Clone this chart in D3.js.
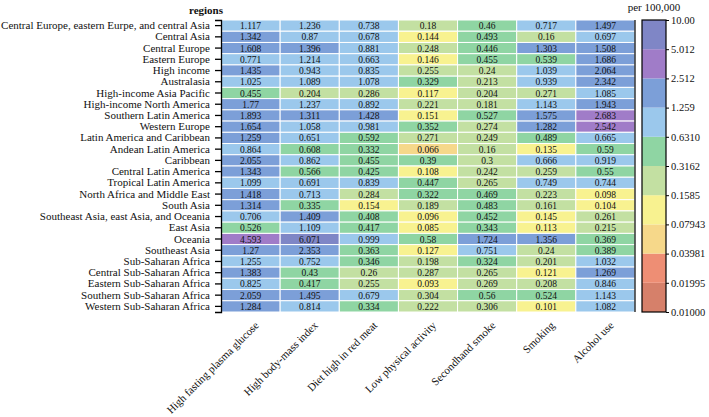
<!DOCTYPE html>
<html>
<head>
<meta charset="utf-8">
<script src="https://cdn.jsdelivr.net/npm/d3@7"></script>
<style>
  html, body { margin: 0; padding: 0; background: #fff; }
  svg { display: block; }
  text { font-family: "Liberation Serif", "Times New Roman", serif; fill: #111; }
</style>
</head>
<body>
<svg id="chart" width="709" height="417"></svg>
<script>
const regions = [
  "Central Europe, eastern Eurpe, and central Asia",
  "Central Asia",
  "Central Europe",
  "Eastern Europe",
  "High income",
  "Australasia",
  "High-income Asia Pacific",
  "High-income North America",
  "Southern Latin America",
  "Western Europe",
  "Latin America and Caribbean",
  "Andean Latin America",
  "Caribbean",
  "Central Latin America",
  "Tropical Latin America",
  "North Africa and Middle East",
  "South Asia",
  "Southeast Asia, east Asia, and Oceania",
  "East Asia",
  "Oceania",
  "Southeast Asia",
  "Sub-Saharan Africa",
  "Central Sub-Saharan Africa",
  "Eastern Sub-Saharan Africa",
  "Southern Sub-Saharan Africa",
  "Western Sub-Saharan Africa"
];
const riskFactors = [
  "High fasting plasma glucose",
  "High body-mass index",
  "Diet high in red meat",
  "Low physical activity",
  "Secondhand smoke",
  "Smoking",
  "Alcohol use"
];
const highFastingPlasmaGlucose = [1.117,1.342,1.608,0.771,1.435,1.025,0.455,1.77,1.893,1.654,1.259,0.864,2.055,1.343,1.099,1.418,1.314,0.706,0.526,4.593,1.27,1.255,1.383,0.825,2.059,1.284];
const highBodyMassIndex = [1.236,0.87,1.396,1.214,0.943,1.089,0.204,1.237,1.311,1.058,0.651,0.608,0.862,0.566,0.691,0.713,0.335,1.409,1.109,6.071,2.353,0.752,0.43,0.417,1.495,0.814];
const dietHighInRedMeat = [0.738,0.678,0.881,0.663,0.835,1.078,0.286,0.892,1.428,0.981,0.592,0.332,0.455,0.425,0.839,0.284,0.154,0.408,0.417,0.999,0.363,0.346,0.26,0.255,0.679,0.334];
const lowPhysicalActivity = [0.18,0.144,0.248,0.146,0.255,0.329,0.117,0.221,0.151,0.352,0.271,0.066,0.39,0.108,0.447,0.322,0.189,0.096,0.085,0.58,0.127,0.198,0.287,0.093,0.304,0.222];
const secondhandSmoke = [0.46,0.493,0.446,0.455,0.24,0.213,0.204,0.181,0.527,0.274,0.249,0.16,0.3,0.242,0.265,0.469,0.483,0.452,0.343,1.724,0.751,0.324,0.265,0.269,0.56,0.306];
const smoking = [0.717,0.16,1.303,0.539,1.039,0.939,0.271,1.143,1.575,1.282,0.489,0.135,0.666,0.259,0.749,0.223,0.161,0.145,0.113,1.356,0.24,0.201,0.121,0.208,0.524,0.101];
const alcoholUse = [1.497,0.697,1.508,1.686,2.064,2.342,1.085,1.943,2.683,2.542,0.665,0.59,0.919,0.55,0.744,0.098,0.104,0.261,0.215,0.369,0.389,1.032,1.269,0.846,1.143,1.082];
const seriesValues = [highFastingPlasmaGlucose, highBodyMassIndex, dietHighInRedMeat, lowPhysicalActivity, secondhandSmoke, smoking, alcoholUse];

const legendTicks = [0.01, 0.01995, 0.03981, 0.07943, 0.1585, 0.3162, 0.6310, 1.259, 2.512, 5.012, 10];
const legendTickLabels = ["0.01000","0.01995","0.03981","0.07943","0.1585","0.3162","0.6310","1.259","2.512","5.012","10.00"];
const bandColors = ["#d6806a","#ee8e74","#f6d88a","#f8f290","#c3e0a2","#8fd5a3","#9bc8ec","#7c9fd8","#a07cc8","#7f86c6"];
const legendTitle = "per 100,000";
const yTitle = "regions";

const svg = d3.select("#chart");
const mLeft = 221, mRight = 635, mTop = 20, mBottom = 312;
const serif = '"Liberation Serif", "Times New Roman", serif';

const x = d3.scaleBand().domain(riskFactors).range([mLeft, mRight]);
const y = d3.scaleBand().domain(regions).range([mTop, mBottom]);
const color = d3.scaleThreshold().domain(legendTicks.slice(1, -1)).range(bandColors);

const cells = [];
seriesValues.forEach((vals, j) => vals.forEach((v, i) => cells.push({r: regions[i], c: riskFactors[j], v})));

svg.append("g").selectAll("rect").data(cells).join("rect")
  .attr("x", d => x(d.c)).attr("y", d => y(d.r))
  .attr("width", x.bandwidth()).attr("height", y.bandwidth())
  .attr("fill", d => color(d.v))
  .attr("stroke", "#fff").attr("stroke-width", 1);

svg.append("g").selectAll("text").data(cells).join("text")
  .attr("x", d => x(d.c) + x.bandwidth() / 2)
  .attr("y", d => y(d.r) + y.bandwidth() / 2 + 3.5)
  .attr("text-anchor", "middle")
  .attr("font-size", 9.5).text(d => d.v);

// Left axis
const yAxis = svg.append("g").attr("transform", `translate(${mLeft},0)`)
  .call(d3.axisLeft(y).tickSize(6).tickPadding(5));
yAxis.select(".domain").attr("stroke", "#000").attr("stroke-width", 1.3);
yAxis.selectAll(".tick line").attr("stroke", "#000").attr("stroke-width", 1.3);
yAxis.selectAll("text").attr("font-size", 11).attr("fill", "#111")
  .style("font-family", serif);

// right border line
svg.append("line").attr("x1", mRight).attr("x2", mRight).attr("y1", mTop).attr("y2", mBottom)
  .attr("stroke", "#000").attr("stroke-width", 1.2);

// bottom labels
const xAxis = svg.append("g").attr("transform", `translate(0,${mBottom})`)
  .call(d3.axisBottom(x).tickSize(0).tickPadding(0));
xAxis.select(".domain").remove();
xAxis.selectAll("text")
  .attr("font-size", 11).attr("fill", "#111")
  .style("font-family", serif)
  .attr("text-anchor", "end")
  .attr("dy", 0)
  .attr("transform", "translate(9,14) rotate(-45)");

svg.append("text").attr("x", 206).attr("y", 14).attr("text-anchor", "middle")
  .attr("font-size", 11).attr("font-weight", "bold").text(yTitle);

// Colorbar
const lx = 642, lw = 24;
const ly = d3.scaleLog().domain([0.01, 10]).range([mBottom, mTop]);
const bands = bandColors.map((c, i) => ({c, lo: legendTicks[i], hi: legendTicks[i + 1]}));
svg.append("g").selectAll("rect").data(bands).join("rect")
  .attr("x", lx).attr("width", lw)
  .attr("y", d => ly(d.hi)).attr("height", d => ly(d.lo) - ly(d.hi))
  .attr("fill", d => d.c);
svg.append("rect").attr("x", lx).attr("y", mTop).attr("width", lw).attr("height", mBottom - mTop)
  .attr("fill", "none").attr("stroke", "#000").attr("stroke-width", 1.2);
const cAxis = svg.append("g").attr("transform", `translate(${lx + lw},0)`)
  .call(d3.axisRight(ly).tickValues(legendTicks).tickFormat((d, i) => legendTickLabels[i]).tickSize(3).tickPadding(2));
cAxis.select(".domain").remove();
cAxis.selectAll(".tick line").attr("stroke", "#000");
cAxis.selectAll("text").attr("font-size", 10.5).attr("fill", "#111")
  .style("font-family", serif);
svg.append("text").attr("x", 654).attr("y", 11).attr("text-anchor", "middle")
  .attr("font-size", 11).text(legendTitle);
</script>
</body>
</html>
